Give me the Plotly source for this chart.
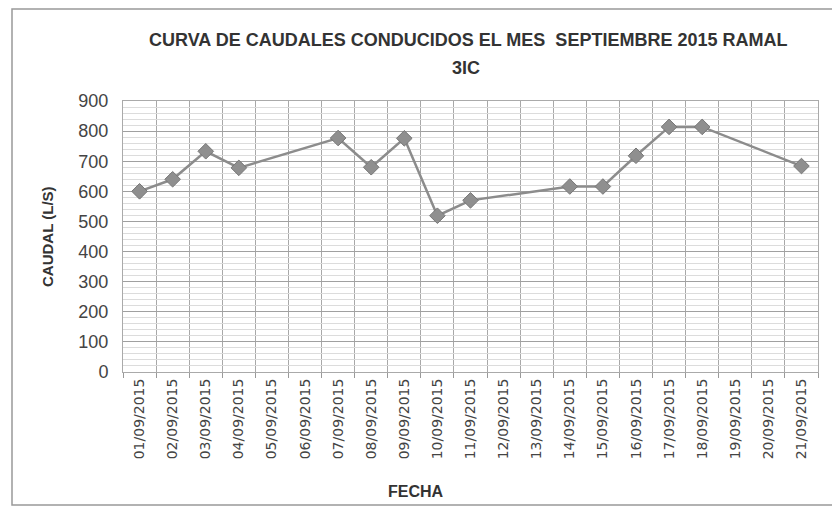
import plotly.graph_objects as go

# Data
date_labels = [f"{d:02d}/09/2015" for d in range(1, 22)]
day_positions = list(range(1, 22))
data_days = [1, 2, 3, 4, 7, 8, 9, 10, 11, 14, 15, 16, 17, 18, 21]
caudal = [600, 640, 733, 678, 777, 680, 776, 519, 570, 616, 616, 718, 814, 814, 684]
y_ticks = [0, 100, 200, 300, 400, 500, 600, 700, 800, 900]

# The page has an 8px body margin; the figure is sized/offset to compensate.
L, T, PW, PH = 115, 93, 695, 271

fig = go.Figure()
fig.add_trace(go.Scatter(
    x=data_days, y=caudal, mode="lines+markers",
    line=dict(color="#8c8c8c", width=2.5),
    marker=dict(symbol="diamond", size=12, color="#8f8f8f",
                line=dict(color="#777777", width=1)),
    showlegend=False,
))

bold = dict(family="Liberation Sans", color="#333333", weight="bold")

fig.update_layout(
    width=832, height=502,
    margin=dict(l=L, r=832 - L - PW, t=T, b=502 - T - PH, autoexpand=False),
    paper_bgcolor="white", plot_bgcolor="white",
    font=dict(family="Liberation Sans", color="#333333"),
    xaxis=dict(
        range=[0.5, 21.5],
        tickmode="array", tickvals=day_positions, ticktext=date_labels,
        tickangle=-90, showgrid=False, ticks="",
        tickfont=dict(family="DejaVu Sans", size=14, color="#444444"),
        showline=True, linecolor="#aaaaaa", mirror=True,
        minor=dict(tickmode="linear", tick0=0.5, dtick=1, showgrid=True,
                   gridcolor="#a8a8a8", gridwidth=1, ticks="outside",
                   ticklen=5, tickcolor="#999999"),
        zeroline=False,
    ),
    yaxis=dict(
        range=[0, 900], tickmode="array", tickvals=y_ticks,
        showgrid=True, gridcolor="#a0a0a0", gridwidth=1,
        tickfont=dict(family="Liberation Sans", size=18, color="#444444"),
        ticklabelstandoff=10,
        showline=True, linecolor="#aaaaaa", mirror=True,
        minor=dict(dtick=20, showgrid=True, gridcolor="#dcdcdc", gridwidth=1),
        zeroline=False, ticks="", ticklen=0,
    ),
    annotations=[
        dict(text="CURVA DE CAUDALES CONDUCIDOS EL MES  SEPTIEMBRE 2015 RAMAL",
             x=(468 - 8 - L) / PW, y=1.0, xref="paper", yref="paper",
             xanchor="center", yanchor="middle", yshift=101 - 40,
             showarrow=False, font=dict(bold, size=18)),
        dict(text="3IC", x=(466 - 8 - L) / PW, y=1.0, xref="paper", yref="paper",
             xanchor="center", yanchor="middle", yshift=101 - 68,
             showarrow=False, font=dict(bold, size=18)),
        dict(text="CAUDAL (L/S)", x=0, y=(372 - 237) / PH, xref="paper", yref="paper",
             xanchor="center", yanchor="middle", xshift=47 - 123, textangle=-90,
             showarrow=False, font=dict(bold, size=15)),
        dict(text="FECHA", x=(416 - 8 - L) / PW, y=0, xref="paper", yref="paper",
             xanchor="center", yanchor="middle", yshift=372 - 491,
             showarrow=False, font=dict(bold, size=16)),
    ],
    shapes=[
        dict(type="rect", xref="paper", yref="paper",
             x0=(4 - L) / PW, x1=(830 - L) / PW,
             y0=(T + PH - 497) / PH, y1=(T + PH - 1) / PH,
             line=dict(color="#999999", width=1.5), layer="below"),
    ],
)

fig.write_html("out.html")
